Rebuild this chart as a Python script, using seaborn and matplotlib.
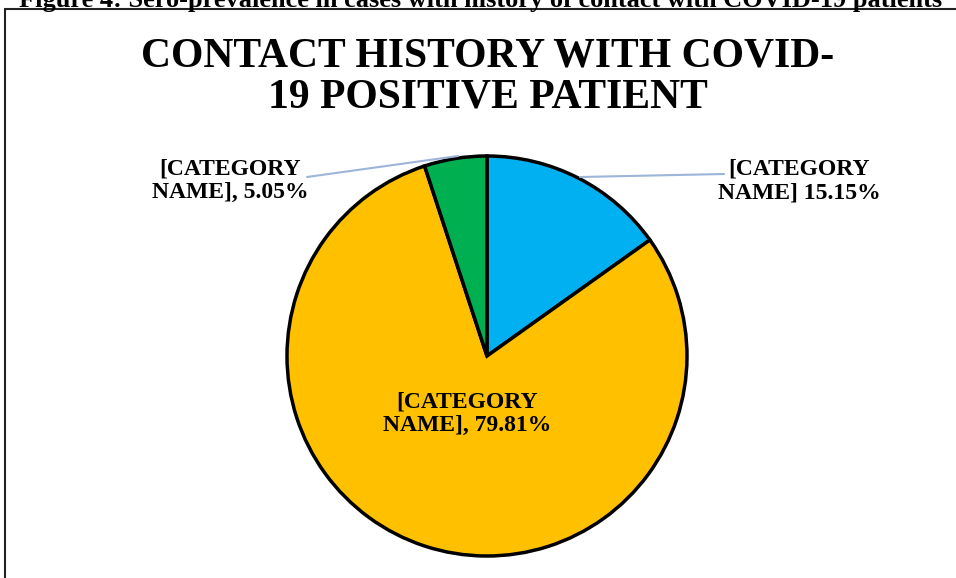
import matplotlib.pyplot as plt
import seaborn as sns
from matplotlib.lines import Line2D

# Slice data (clockwise from 12 o'clock)
categories = ["[CATEGORY\nNAME] 15.15%", "[CATEGORY\nNAME], 79.81%", "[CATEGORY\nNAME], 5.05%"]
shares = [15.15, 79.81, 5.05]
colors = ["#00B0F0", "#FFC000", "#00B050"]

sns.set_theme(style="white")
plt.rcParams["font.family"] = ["Liberation Serif", "DejaVu Serif"]
plt.rcParams["text.color"] = "black"

W, H = 956, 578
fig = plt.figure(figsize=(W / 100, H / 100), dpi=100)


def fx(px):
    return px / W


def fy(py):
    return 1 - py / H


# Caption cut off at the top of the page
fig.text(fx(481), fy(7), "Figure 4: Sero-prevalence in cases with history of contact with COVID-19 patients",
         ha="center", va="baseline", fontsize=19, fontweight="bold")

# Chart frame (left and top edges visible)
fig.add_artist(Line2D([fx(5), fx(5)], [fy(9), 0], color="#222222", lw=1.5))
fig.add_artist(Line2D([fx(5), 1], [fy(9), fy(9)], color="#222222", lw=1.5))

# Title
fig.text(fx(488), fy(77), "CONTACT HISTORY WITH COVID-\n19 POSITIVE PATIENT",
         ha="center", va="center", fontsize=30, fontweight="bold", linespacing=1.12)

# Pie
cx, cy, r = 487, 356, 200
ax = fig.add_axes([fx(cx - r), fy(cy + r), 2 * r / W, 2 * r / H])
wedges, _ = ax.pie(shares, colors=colors, startangle=90, counterclock=False,
                   wedgeprops=dict(edgecolor="black", linewidth=2.5))
ax.set_xlim(-1, 1)
ax.set_ylim(-1, 1)
ax.set_aspect("equal")
ax.axis("off")

lab_kw = dict(fontsize=17, fontweight="bold", ha="center", va="center", linespacing=1.15)
lead = dict(color="#9DB5D9", lw=1.5)

# Blue slice label with leader line
fig.text(fx(799), fy(181), categories[0], **lab_kw)
fig.add_artist(Line2D([fx(580), fx(724)], [fy(177), fy(174)], **lead))

# Yellow slice label inside
fig.text(fx(467), fy(414), categories[1], **lab_kw)

# Green slice label with leader line
fig.text(fx(230), fy(181), categories[2], **lab_kw)
fig.add_artist(Line2D([fx(458), fx(307)], [fy(156), fy(177)], **lead))

fig.savefig("out.png", dpi=100)
